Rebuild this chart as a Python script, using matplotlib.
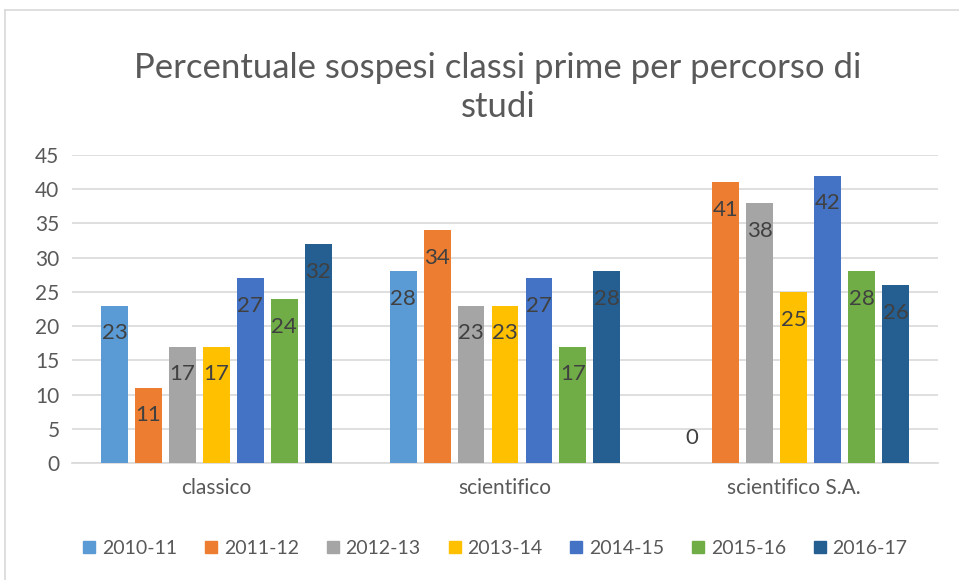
import numpy as np
import matplotlib
matplotlib.use('Agg')
import matplotlib.pyplot as plt
from matplotlib.lines import Line2D

plt.rcParams['font.family'] = ['Lato', 'DejaVu Sans']

categories = ['classico', 'scientifico', 'scientifico S.A.']
years = ['2010-11', '2011-12', '2012-13', '2013-14', '2014-15', '2015-16', '2016-17']
values = [
    [23, 28, 0],
    [11, 34, 41],
    [17, 23, 38],
    [17, 23, 25],
    [27, 27, 42],
    [24, 17, 28],
    [32, 28, 26],
]
colors = ['#5B9BD5', '#ED7D31', '#A5A5A5', '#FFC000', '#4472C4', '#70AD47', '#255E91']

W, H = 959, 580
fig = plt.figure(figsize=(W / 100, H / 100), dpi=100)
ax = fig.add_axes([72 / W, 1 - 463 / H, (938 - 72) / W, (463 - 155) / H])

x = np.arange(len(categories))
pitch = 0.1176
width = 0.093
for i, (yr, vals) in enumerate(zip(years, values)):
    pos = x + (i - 3) * pitch
    ax.bar(pos, vals, width, color=colors[i], label=yr, zorder=3)
    for px, v in zip(pos, vals):
        off = 18 if v == 0 else -20
        ax.annotate(str(v), (px, v), xytext=(0, off), textcoords='offset points',
                    ha='center', va='center', fontsize=16, color='#404040', zorder=4)

ax.set_xlim(-0.5, 2.5)
ax.set_ylim(0, 45)
ax.set_yticks(range(0, 46, 5))
ax.set_xticks(x)
ax.set_xticklabels(categories)
ax.yaxis.grid(True, color='#D9D9D9', linewidth=1.2, zorder=0)
for s in ['top', 'right', 'left']:
    ax.spines[s].set_visible(False)
ax.spines['bottom'].set_color('#D9D9D9')
ax.spines['bottom'].set_linewidth(1.2)
ax.tick_params(axis='both', length=0, labelsize=15, labelcolor='#595959')
ax.tick_params(axis='x', pad=11)
ax.tick_params(axis='y', pad=9)

fig.text(498 / W, 1 - 68 / H, 'Percentuale sospesi classi prime per percorso di',
         ha='center', va='center', fontsize=25, color='#595959')
fig.text(498 / W, 1 - 107 / H, 'studi', ha='center', va='center', fontsize=25,
         color='#595959')

handles = [Line2D([], [], marker='s', linestyle='', markersize=9, color=c) for c in colors]
fig.legend(handles, years, loc='center', bbox_to_anchor=(495 / W, 1 - 548 / H), ncol=7,
           frameon=False, fontsize=14, labelcolor='#595959', handlelength=0.7,
           handletextpad=0.3, columnspacing=1.4)

# outer chart border
fig.add_artist(Line2D([5 / W, 5 / W], [0, 1 - 10 / H], color='#D9D9D9', linewidth=1.2))
fig.add_artist(Line2D([5 / W, 1], [1 - 10 / H, 1 - 10 / H], color='#D9D9D9', linewidth=1.2))

fig.savefig('out.png', dpi=100)
